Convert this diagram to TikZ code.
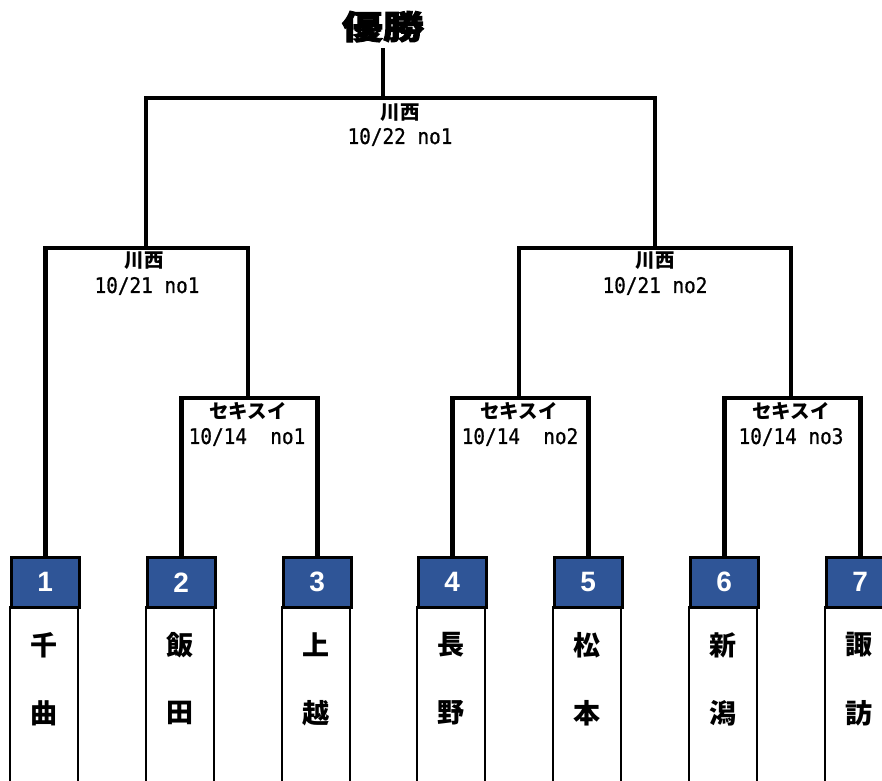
\documentclass[tikz,border=0pt]{standalone}
\usepackage{fontspec}
\newfontfamily\jp{Noto Sans CJK JP}
\newfontfamily\jpheavy[BoldFeatures={FakeBold=2.5}]{Noto Sans CJK JP}
\newfontfamily\lat{Liberation Sans}
\newfontfamily\mono[FakeStretch=0.9, FakeBold=0.8]{DejaVu Sans Mono}
\definecolor{tblue}{HTML}{2F5597}
\begin{document}
\begin{tikzpicture}[x=1pt,y=-1pt,
  wire/.style={line width=4.5pt, line join=miter},
  numbox/.style={fill=tblue, draw=black, line width=2.5pt, minimum width=68pt, minimum height=50pt, anchor=north west, inner sep=0pt, text=white, font=\lat\bfseries\fontsize{28}{28}\selectfont},
  bodybox/.style={draw=black, line width=2.5pt, minimum width=68pt, minimum height=200pt, anchor=north, inner sep=0pt},
  city/.style={font=\jp\bfseries\fontsize{27}{27}\selectfont, inner sep=0pt},
  place/.style={font=\jp\bfseries\fontsize{19.5}{19.5}\selectfont, inner sep=0pt},
  date/.style={font=\mono\fontsize{21.5}{21.5}\selectfont, inner sep=0pt}
]
\useasboundingbox (0,0) rectangle (882,780);
\clip (0,0) rectangle (882,780);

% teams
\foreach \i/\xl/\ca/\cb in {1/10/千/曲, 2/146/飯/田, 3/282/上/越, 4/417/長/野, 5/553/松/本, 6/689/新/潟, 7/825/諏/訪}{
  \node[bodybox] (body\i) at (\xl+34,606) {};
  \node[numbox] (b\i) at (\xl,556) {\i};
  \node[city] (ca\i) at (\xl+34,645) {\ca};
  \node[city] (cb\i) at (\xl+34,713) {\cb};
}

% junctions
\coordinate (m1) at (248,398);
\coordinate (m2) at (519,398);
\coordinate (m3) at (791,398);
\coordinate (m4) at (146,248);
\coordinate (m5) at (655,248);
\coordinate (m6) at (383,98);

\node[font=\jpheavy\bfseries\fontsize{41}{41}\selectfont, inner xsep=0pt, inner ysep=6pt, anchor=base] (title) at (383,39) {\scalebox{1}[0.8]{優勝}};

\draw[wire] (b2.north) |- (m1) -| (b3.north);
\draw[wire] (b4.north) |- (m2) -| (b5.north);
\draw[wire] (b6.north) |- (m3) -| (b7.north);
\draw[wire] (b1.north) |- (m4) -| (m1);
\draw[wire] (m2) |- (m5) -| (m3);
\draw[wire] (m4) |- (m6) -| (m5);
\draw[wire] (m6) -- (title.south);

% labels
\node[place] (p6) at (400,113) {川西};
\node[date] (d6) at (400,137) {10/22 no1};
\node[place] (p4) at (144,261) {川西};
\node[date] (d4) at (147,286) {10/21 no1};
\node[place] (p5) at (655,261) {川西};
\node[date] (d5) at (655,286) {10/21 no2};
\node[place] (p1) at (248,411) {セキスイ};
\node[date] (d1) at (247,437) {10/14\ \ no1};
\node[place] (p2) at (519,411) {セキスイ};
\node[date] (d2) at (520,437) {10/14\ \ no2};
\node[place] (p3) at (791,411) {セキスイ};
\node[date] (d3) at (791,437) {10/14 no3};
\end{tikzpicture}
\end{document}
